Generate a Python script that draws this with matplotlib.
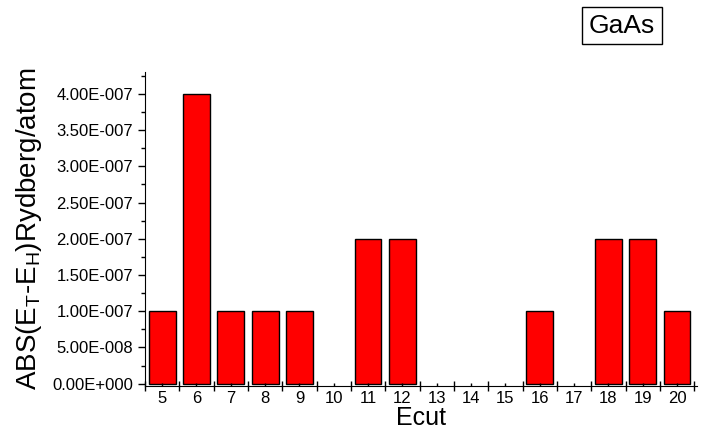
import numpy as np
import matplotlib.pyplot as plt
from matplotlib.ticker import FuncFormatter, MultipleLocator

plt.rcParams['font.family'] = ['Liberation Sans', 'DejaVu Sans']
plt.rcParams['mathtext.default'] = 'regular'

ecut = [5, 6, 7, 8, 9, 10, 11, 12, 13, 14, 15, 16, 17, 18, 19, 20]
abs_diff = [1e-7, 4e-7, 1e-7, 1e-7, 1e-7, 0, 2e-7, 2e-7, 0, 0, 0, 1e-7, 0, 2e-7, 2e-7, 1e-7]


def sci_fmt(v, pos):
    if abs(v) < 1e-20:
        return "0.00E+000"
    exp = int(np.floor(np.log10(abs(v)) + 1e-9))
    mant = v / 10**exp
    sign = '+' if exp >= 0 else '-'
    return f"{mant:.2f}E{sign}{abs(exp):03d}"


fig = plt.figure(figsize=(7.09, 4.43), dpi=100)
ax = fig.add_axes([0.2045, 0.129, 0.7785, 0.708])

# zero-height bars draw nothing in the original
edge_w = [1.0 if v > 0 else 0 for v in abs_diff]
ax.bar(ecut, abs_diff, width=0.78, color='#ff0000', edgecolor='black', linewidth=edge_w)

ax.set_xlim(4.5, 20.58)
ax.set_ylim(-0.03e-7, 4.3e-7)

ax.spines['top'].set_visible(False)
ax.spines['right'].set_visible(False)

ax.set_xticks(np.arange(4.5, 20.6, 1.0))
ax.set_xticklabels([])
ax.set_xticks(ecut, minor=True)
ax.set_xticklabels([str(e) for e in ecut], minor=True, fontsize=12)
ax.tick_params(axis='x', which='major', direction='inout', length=7, width=1)
ax.tick_params(axis='x', which='minor', direction='in', length=2, width=1, pad=4)

ax.yaxis.set_major_locator(MultipleLocator(0.5e-7))
ax.yaxis.set_minor_locator(MultipleLocator(0.25e-7))
ax.yaxis.set_major_formatter(FuncFormatter(sci_fmt))
ax.tick_params(axis='y', which='major', direction='out', length=5, width=1, labelsize=12)
ax.tick_params(axis='y', which='minor', direction='out', length=3, width=1)

ax.set_xlabel("Ecut", fontsize=18, labelpad=0)
ax.set_ylabel("ABS(E$_T$-E$_H$)Rydberg/atom", fontsize=20, labelpad=6)

fig.text(0.877, 0.942, "GaAs", fontsize=19, ha='center', va='center',
         bbox=dict(boxstyle='square,pad=0.25', facecolor='white', edgecolor='black', linewidth=1))

fig.savefig("out.png", dpi=100)
